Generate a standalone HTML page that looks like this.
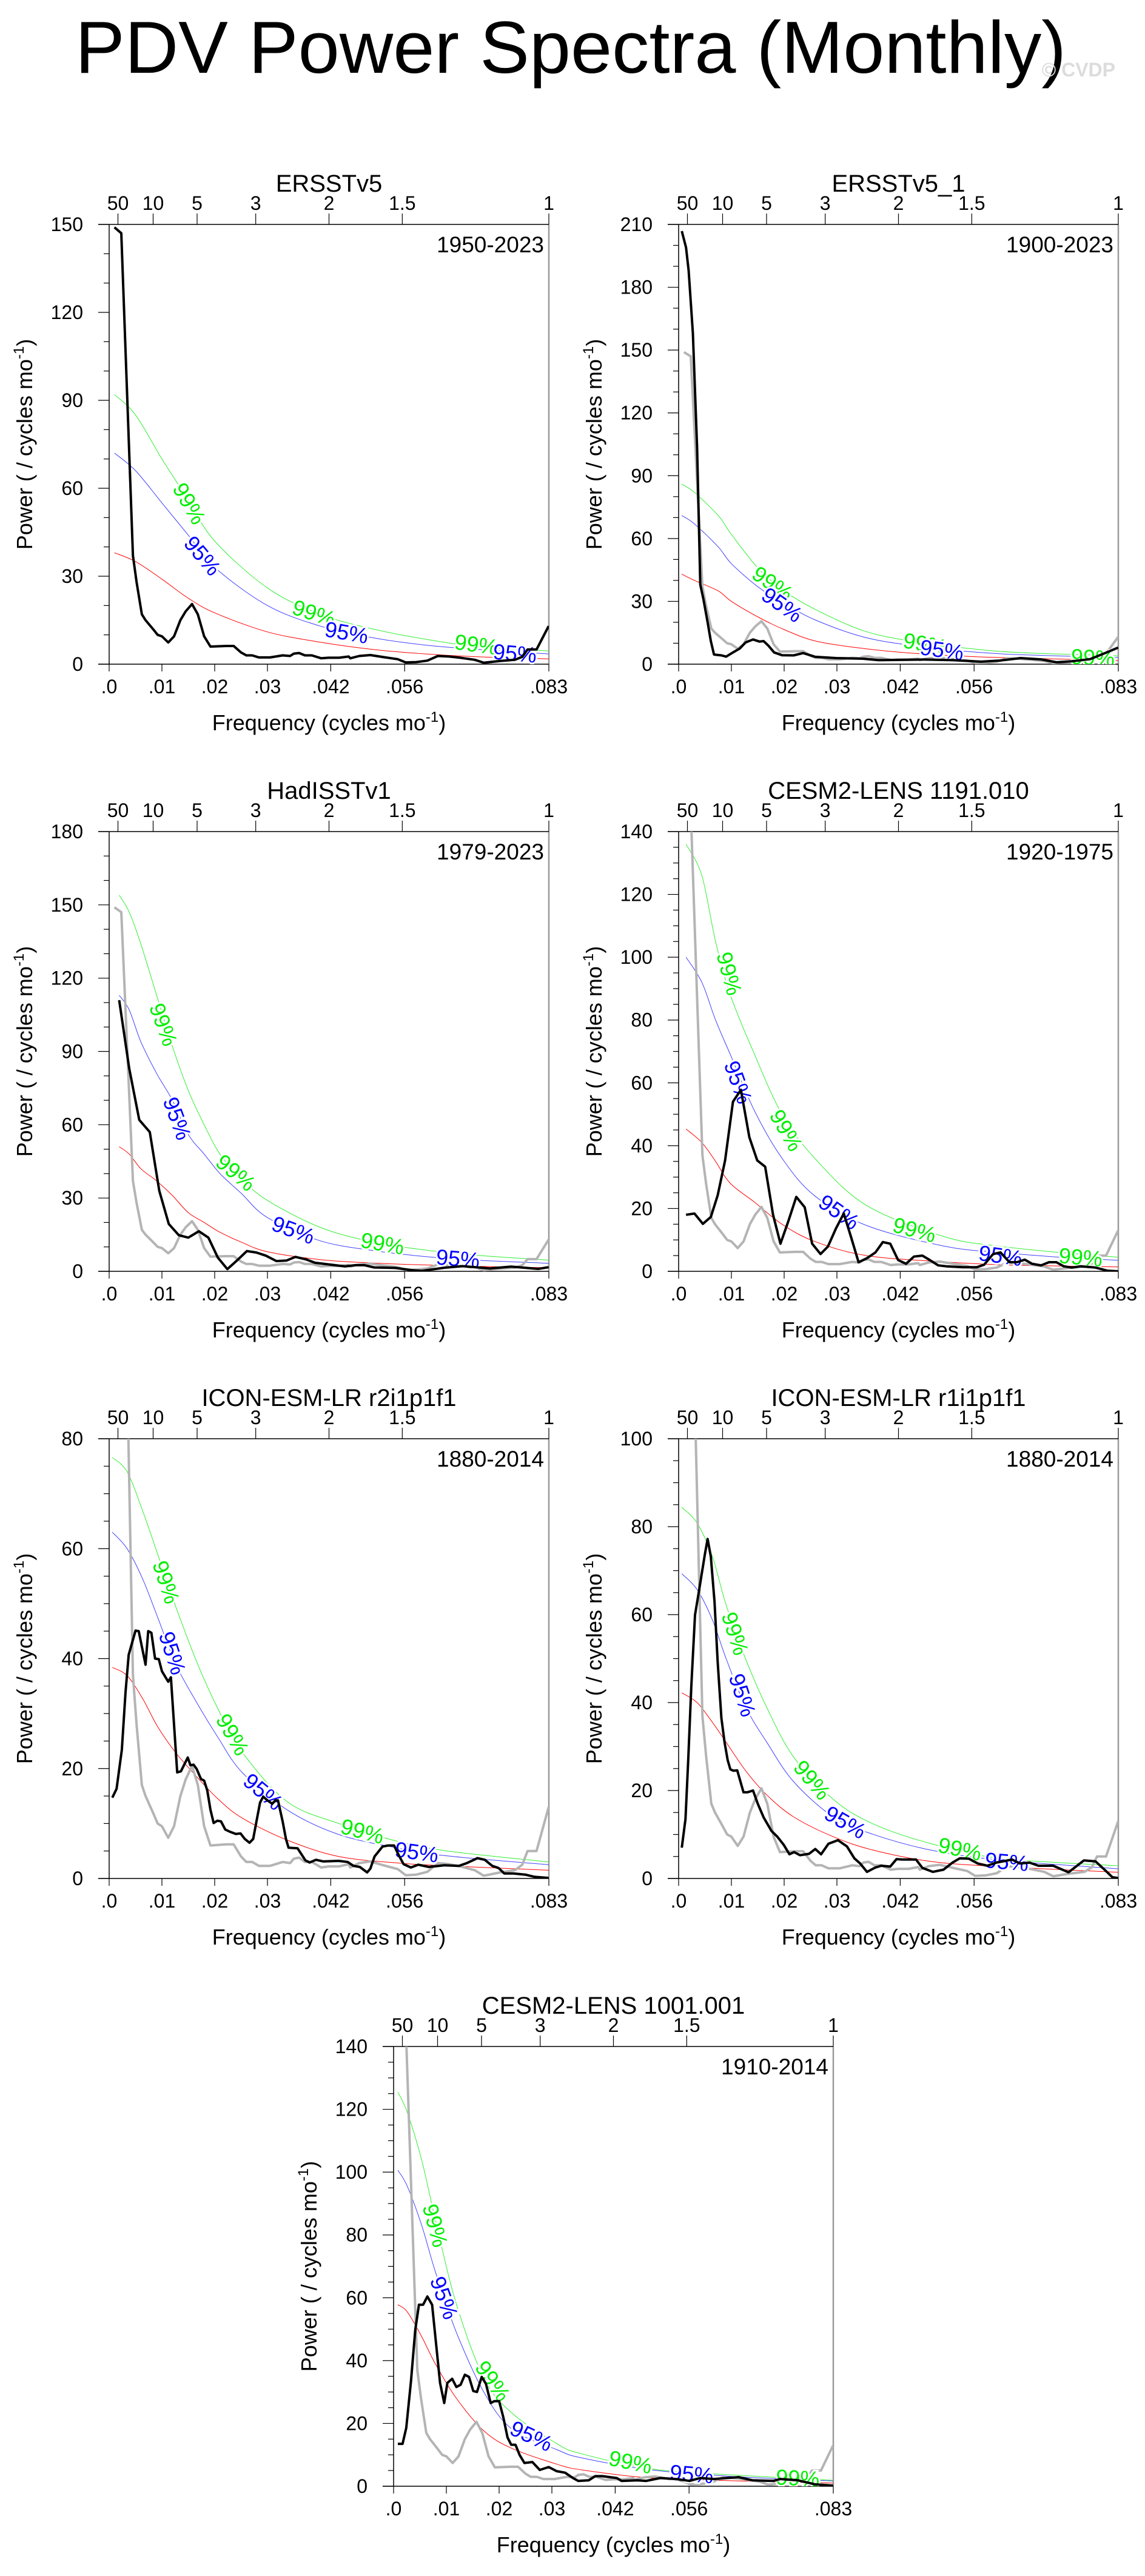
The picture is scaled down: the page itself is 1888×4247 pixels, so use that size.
<!DOCTYPE html>
<html><head><meta charset="utf-8"><title>PDV Power Spectra (Monthly)</title>
<style>
html,body{margin:0;padding:0;background:#fff;}
svg{display:block;font-family:"Liberation Sans",Arial,sans-serif;}
</style></head>
<body>
<svg id="fig" xmlns="http://www.w3.org/2000/svg" width="1888" height="4247" viewBox="0 0 1888 4247">
<rect x="0" y="0" width="1888" height="4247" fill="#fff"/>
<text x="941" y="120" text-anchor="middle" font-size="122" textLength="1634" lengthAdjust="spacingAndGlyphs" fill="#000">PDV Power Spectra (Monthly)</text>
<text x="1839" y="126" text-anchor="end" font-size="32" font-weight="bold" fill="#dcdcdc">© CVDP</text>
</svg>
<script>
// Reference series (ERSSTv5 1950-2023), drawn grey in the other panels
const refFreq = [.001,.0023,.0045,.0052,.0062,.0069,.0083,.0092,.01,.0112,.0123,.0135,.0145,.0157,.0168,.018,.0192,.0222,.0236,.025,.026,.0271,.0284,.0305,.0329,.0343,.035,.036,.0371,.0384,.0402,.0416,.0436,.0454,.0457,.0474,.0495,.052,.0547,.0562,.0582,.0603,.0623,.0644,.0665,.0693,.071,.0741,.0769,.0783,.0793,.081,.0833];
const refPower = [149,147,37,28,17,15,12,10,9.5,7.4,9.5,15,18,20.5,17,9.5,6,6.2,6.2,4,3,3,2.3,2.3,3,2.8,3.6,3.8,3,3,2,2.2,2.2,2.6,2,2.8,3.1,2.4,1.7,0.6,0.7,1.2,2.8,2.6,2.2,1.5,0.5,1.1,1.5,2.5,5,5,13];

// Panel 1 ERSSTv5
const p1Freq = refFreq;
const p1Power = refPower;
const p1SigFreq = [.001,.005,.01,.015,.02,.03,.04,.05,.06,.07,.0833];
const p1Red = [38,35,29,22.5,17.5,11,7.5,5,3.5,2.5,1.8];
const p1Sig95 = [72,66,55,44,33,20,13,9,6.5,5,3.5];
const p1Sig99 = [92,85,70,56,42,26,17,12,8.5,6,4.5];
const p1Labels = [[.0152,54.8,60,'99%'],[.0177,37,50,'95%'],[.0388,17.4,18,'99%'],[.045,10.8,10,'95%'],[.0696,6.7,8,'99%'],[.0769,3.7,5,'95%']];

// Panel 2 ERSSTv5_1
const p2Freq = [.0006,.0014,.0019,.0027,.0035,.0041,.0047,.0055,.0061,.0067,.0081,.009,.0101,.0116,.0127,.0141,.0153,.0161,.017,.0181,.0196,.0218,.0236,.0259,.0299,.035,.0379,.0465,.052,.0573,.0608,.0648,.0687,.0716,.0745,.078,.0811,.0833];
const p2Power = [206.8,199,188,158,103,38,31,20,11,4.6,4.2,3.6,5.3,7.5,10.4,11.8,10.8,11,8.9,5.6,4.3,4.2,5.3,3.5,2.9,2.6,1.9,2.2,1.9,1.2,1.7,2.9,2.3,0.9,1.4,2.4,5.6,7.9];
const p2SigFreq = [.0006,.003,.0075,.01,.015,.02,.026,.035,.044,.055,.065,.0833];
const p2Red = [43,40,35,30,22.6,16.5,11,7.5,5.3,3.7,2.9,1.7];
const p2Sig95 = [71,67,56,48,37,29,21,13,9,6,4.5,3.2];
const p2Sig99 = [86,82,71,62,46,35,26,16,11,7.5,5.5,4];
const p2Labels = [[.0178,38.5,35,'99%'],[.0196,28.4,35,'95%'],[.0467,9.7,10,'99%'],[.0499,6.8,8,'95%'],[.0785,3.2,3,'99%']];

// Panel 3 HadISSTv1
const p3Freq = [.0019,.0038,.0057,.0077,.0095,.0113,.0132,.015,.017,.0188,.0206,.0224,.0243,.0261,.0279,.0297,.0317,.0336,.0353,.0373,.039,.0447,.0467,.0484,.0502,.0542,.0573,.0593,.0636,.067,.0705,.0722,.0762,.0813,.0833];
const p3Power = [111,83,62,57,33,19.4,14.8,13.8,16.4,13.8,5.6,0.9,4.6,8.3,7.7,6.4,4.2,4.4,5.9,4.9,3.5,2,2.5,2.5,1.6,1.4,0.5,0.2,1.5,2.1,1.5,1.2,1.9,1,1.7];
const p3SigFreq = [.0019,.0038,.006,.009,.012,.015,.018,.021,.025,.03,.04,.05,.06,.07,.0833];
const p3Red = [51,48,42,37,31,24,20,16,12,8,4.8,3.4,2.6,2,1.5];
const p3Sig95 = [113,107,94,81,70,56,48,40,32,22,12.5,8.5,6,4.5,3.3];
const p3Sig99 = [154,147,134,113,92,74,60,48,38,29,18,12,8.7,6.5,4.6];
const p3Labels = [[.0103,101,70,'99%'],[.0129,62.6,70,'95%'],[.024,40.4,40,'99%'],[.0349,16.9,20,'95%'],[.0518,11.4,10,'99%'],[.0661,5.2,5,'95%']];

// Panel 4 CESM2-LENS 1191.010
const p4Freq = [.0014,.003,.0046,.0061,.0074,.0088,.0103,.0118,.0134,.0149,.0164,.0179,.0193,.0208,.0223,.0239,.0253,.0269,.0283,.0298,.0313,.0327,.0341,.0357,.0373,.0387,.0401,.0416,.0431,.0446,.0462,.0476,.0492,.0507,.0539,.0565,.0579,.0596,.061,.0627,.0641,.0656,.067,.0687,.0702,.0716,.073,.0745,.0762,.079,.0813,.0833];
const p4Power = [18,18.4,15.1,17.3,24.2,35.3,54,57.8,42.7,35.3,33.3,18,8.8,16,23.7,20.4,8.8,5.5,7.9,13.6,18.4,10.8,2.9,4.2,6,9.3,8.8,3.6,2.4,4.7,5,3.6,1.9,1.6,1.3,1.3,2.1,5.5,6,2.9,2.9,3.7,2.4,1.9,2.9,2.9,1.6,1.2,1.6,1.2,0.2,0];
const p4SigFreq = [.0014,.0044,.007,.0098,.0144,.0196,.0258,.0356,.0504,.0608,.0722,.0833];
const p4Red = [45.3,41,35,28,22,15,9.5,5,3,2.1,1.7,1.4];
const p4Sig95 = [100,92,80,69,51,36,24,14.6,8,6,4.5,3.5];
const p4Sig99 = [136,126,105,88,69,50,36,21,11,8,6,4.5];
const p4Labels = [[.0096,94.8,75,'99%'],[.0113,60.2,70,'95%'],[.0204,44.9,60,'99%'],[.0304,18.9,35,'95%'],[.0447,13.2,15,'99%'],[.061,5,8,'95%'],[.0762,4.5,5,'99%']];

// Panel 5 ICON-ESM-LR r2i1p1f1
const p5Freq = [.0006,.0014,.0024,.0031,.0037,.005,.0056,.0069,.0074,.008,.0087,.0094,.01,.0112,.0117,.0129,.0136,.0149,.0154,.016,.0166,.0174,.018,.0186,.0192,.0198,.0205,.0212,.022,.0229,.024,.0249,.0257,.0266,.0273,.028,.0286,.0292,.03,.0309,.0315,.032,.0329,.0335,.034,.0357,.0372,.038,.0392,.0406,.0435,.0452,.0463,.0475,.0489,.0495,.0503,.0518,.0529,.054,.0549,.0558,.0572,.0586,.0606,.0635,.0663,.0678,.0698,.0712,.0726,.0738,.0749,.0766,.0789,.0806,.0833];
const p5Power = [14.7,16.3,23.4,33.9,40.7,45.1,45,38.9,45,44.7,40,39.9,37.7,35.8,36.6,19.3,19.5,22,20.6,20.7,19.9,18.1,17.8,16,12.5,10.1,10.5,10.4,8.9,8.5,8.1,8.2,7.2,6.5,7.2,10.8,13.8,14.9,14.2,13.6,14.2,14.2,10.3,7.2,5.6,5.5,3.3,2.9,3.4,3.1,3.2,3,2.3,2.1,1.1,1.8,4,5.8,6,6,4.2,2.6,2,2.5,2.1,2.4,2.3,2.8,3.7,3.4,2.3,1.9,0.9,0.9,0.7,0.3,0.1];
const p5SigFreq = [.0006,.0034,.0063,.0092,.0126,.0166,.0206,.0252,.0337,.0435,.0549,.0641,.0833];
const p5Red = [38.4,36.9,32.8,27.6,22.9,18.5,14.5,11,7,4,2.8,2.3,1.5];
const p5Sig95 = [63,60,54.6,47.5,39,32,25.7,19.3,12.5,8,5.5,4.1,2.5];
const p5Sig99 = [76.6,74,67,59,49.5,39.4,30.9,23,14,10,6.7,5,3];
const p5Labels = [[.0108,53.9,72,'99%'],[.012,41,72,'95%'],[.0234,26.2,60,'99%'],[.0292,15.8,40,'95%'],[.048,8.6,15,'99%'],[.0583,4.8,8,'95%']];

// Panel 6 ICON-ESM-LR r1i1p1f1
const p6Freq = [.0006,.0013,.0018,.0024,.0031,.0038,.005,.0055,.0061,.0068,.0074,.0081,.0087,.0093,.0098,.0104,.0111,.0123,.013,.0136,.0141,.015,.0161,.0176,.0187,.0199,.021,.0219,.023,.0247,.0259,.027,.0284,.0302,.0319,.0333,.0344,.0357,.0373,.0384,.0401,.0413,.0424,.045,.0462,.0482,.0502,.0519,.0533,.055,.0567,.0585,.0602,.0632,.0647,.0665,.0682,.071,.0739,.0753,.0768,.079,.0808,.0822,.0833];
const p6Power = [7,13.5,26.6,43.7,59.9,65,73.9,77.2,73.2,62.9,49.2,36.5,31,26.9,24.8,24.5,24.6,19.6,19.6,19.8,20,17,13.9,10.8,9.5,7.7,5.5,6,5.3,5.6,6.7,5.5,7.9,8.7,7.3,4.6,3.4,1.5,2.5,2.9,2.7,4.4,4.3,4.3,2.4,1.5,2,3.6,4.6,4.5,3.4,2.9,3.6,4.3,3.4,3.6,2.9,2.9,1.4,2.7,4.1,3.9,1.9,0.3,0.1];
const p6SigFreq = [.0006,.0035,.0064,.009,.0127,.0167,.0218,.0293,.0367,.0476,.0608,.0833];
const p6Red = [42.2,40,35.5,31,24.5,19,14,9.5,6.5,3.9,2.7,1.4];
const p6Sig95 = [69.3,65.7,58.8,50,39,31,22,14,10.1,6.5,4.2,2.2];
const p6Sig99 = [84.4,80.8,73.2,62.2,49.9,38.9,27.6,18,12.5,8,4.6,2.9];
const p6Labels = [[.0107,55.7,72,'99%'],[.0121,41.7,72,'95%'],[.0253,22.4,50,'99%'],[.0316,12.8,30,'95%'],[.0533,6.7,12,'99%'],[.0622,3.8,5,'95%']];

// Panel 7 CESM2-LENS 1001.001
const p7Freq = [.0008,.0017,.0024,.0033,.0041,.0048,.0056,.0064,.0073,.0081,.0088,.0096,.0102,.0111,.0119,.0127,.0135,.0143,.0151,.0158,.0167,.0175,.0184,.0191,.02,.0208,.0216,.0223,.0231,.0239,.0248,.0263,.0277,.0294,.0309,.0325,.034,.035,.037,.0382,.0396,.0423,.0432,.0462,.0479,.0505,.0535,.0561,.0581,.0607,.0654,.068,.072,.0733,.0766,.0799,.0833];
const p7Power = [13.5,13.5,18.6,33.5,49.7,57.8,57.8,60.4,57.8,44.5,32.9,26.5,32.9,34.2,31.6,32.3,35.5,34.8,30.3,30,34.8,32.6,26.5,27.1,27.1,21.9,15.5,13.2,13.2,9.9,7.4,7.7,5.2,6.1,4.8,4.3,2.6,1.7,1.9,3.2,3.2,2.6,1.7,1.9,1.7,2.6,2.3,1.7,2.6,2.3,2.9,1.9,1.7,2.3,1.9,0.6,0.2];
const p7SigFreq = [.0008,.0026,.0053,.0079,.0119,.0172,.0225,.031,.0357,.0489,.0654,.0833];
const p7Red = [57.8,55.5,47.7,39,28,17.5,12,7,5.2,2.6,1.7,1];
const p7Sig95 = [100.6,95.5,83.2,68.4,49,29.7,18.1,11.6,9,5.2,3,1.7];
const p7Sig99 = [125.5,119,104,85,58,34.2,23.2,13.5,10.3,5.5,3.5,1.9];
const p7Labels = [[.0079,83,75,'99%'],[.0096,60,70,'95%'],[.0188,33.5,55,'99%'],[.0261,16,25,'95%'],[.0449,7.7,12,'99%'],[.0565,3.9,5,'95%'],[.0766,2.6,3,'99%']];

// Axis tick definitions
const topPeriods = [50,10,5,3,2,1.5,1];
const topPeriodLabels = ['50','10','5','3','2','1.5','1'];
const bottomTickValues = [0,.01,.02,.03,.042,.056,1/12];
const bottomTickLabels = ['.0','.01','.02','.03','.042','.056','.083'];

const panels = [
 {id:'ersstv5', title:'ERSSTv5', years:'1950-2023', x:180, y:370, ymax:150, major:30, minor:10, f:p1Freq, p:p1Power, gray:false, sf:p1SigFreq, red:p1Red, s95:p1Sig95, s99:p1Sig99, labels:p1Labels},
 {id:'ersstv5-1', title:'ERSSTv5_1', years:'1900-2023', x:1119, y:370, ymax:210, major:30, minor:10, f:p2Freq, p:p2Power, gray:true, sf:p2SigFreq, red:p2Red, s95:p2Sig95, s99:p2Sig99, labels:p2Labels},
 {id:'hadisstv1', title:'HadISSTv1', years:'1979-2023', x:180, y:1371, ymax:180, major:30, minor:10, f:p3Freq, p:p3Power, gray:true, sf:p3SigFreq, red:p3Red, s95:p3Sig95, s99:p3Sig99, labels:p3Labels},
 {id:'cesm2-1191', title:'CESM2-LENS 1191.010', years:'1920-1975', x:1119, y:1371, ymax:140, major:20, minor:5, f:p4Freq, p:p4Power, gray:true, sf:p4SigFreq, red:p4Red, s95:p4Sig95, s99:p4Sig99, labels:p4Labels},
 {id:'icon-r2', title:'ICON-ESM-LR r2i1p1f1', years:'1880-2014', x:180, y:2372, ymax:80, major:20, minor:5, f:p5Freq, p:p5Power, gray:true, sf:p5SigFreq, red:p5Red, s95:p5Sig95, s99:p5Sig99, labels:p5Labels},
 {id:'icon-r1', title:'ICON-ESM-LR r1i1p1f1', years:'1880-2014', x:1119, y:2372, ymax:100, major:20, minor:5, f:p6Freq, p:p6Power, gray:true, sf:p6SigFreq, red:p6Red, s95:p6Sig95, s99:p6Sig99, labels:p6Labels},
 {id:'cesm2-1001', title:'CESM2-LENS 1001.001', years:'1910-2014', x:649, y:3374, ymax:140, major:20, minor:5, f:p7Freq, p:p7Power, gray:true, sf:p7SigFreq, red:p7Red, s95:p7Sig95, s99:p7Sig99, labels:p7Labels}
];

const NS = 'http://www.w3.org/2000/svg';
const svg = document.getElementById('fig');
const W = 725, H = 725, FMAX = 1/12;

function mk(tag, attrs, parent) {
  const e = document.createElementNS(NS, tag);
  for (const k in attrs) e.setAttribute(k, attrs[k]);
  parent.appendChild(e);
  return e;
}
function linePath(pts) {
  return pts.map((p, i) => (i ? 'L' : 'M') + p[0].toFixed(1) + ' ' + p[1].toFixed(1)).join(' ');
}
function smoothPath(pts) {
  let d = 'M' + pts[0][0].toFixed(1) + ' ' + pts[0][1].toFixed(1);
  for (let i = 0; i < pts.length - 1; i++) {
    const p0 = pts[Math.max(0, i - 1)], p1 = pts[i], p2 = pts[i + 1], p3 = pts[Math.min(pts.length - 1, i + 2)];
    const c1x = p1[0] + (p2[0] - p0[0]) / 6, c1y = p1[1] + (p2[1] - p0[1]) / 6;
    const c2x = p2[0] - (p3[0] - p1[0]) / 6, c2y = p2[1] - (p3[1] - p1[1]) / 6;
    d += ' C' + c1x.toFixed(1) + ' ' + c1y.toFixed(1) + ' ' + c2x.toFixed(1) + ' ' + c2y.toFixed(1) + ' ' + p2[0].toFixed(1) + ' ' + p2[1].toFixed(1);
  }
  return d;
}

panels.forEach((P, idx) => {
  const g = mk('g', {}, svg);
  
  
  const xs = f => P.x + f / FMAX * W;
  const ys = v => P.y + H - v / P.ymax * H;

  const clipId = 'clip' + idx;
  const cp = mk('clipPath', {id: clipId}, g);
  mk('rect', {x: P.x, y: P.y, width: W, height: H}, cp);

  const t = mk('text', {x: P.x + W / 2, y: P.y - 54, 'text-anchor': 'middle', 'font-size': 40, fill: '#000'}, g);
  t.textContent = P.title;
  
  

  const yr = mk('text', {x: P.x + W - 8, y: P.y + 46, 'text-anchor': 'end', 'font-size': 37, fill: '#000'}, g);
  yr.textContent = P.years;
  
  

  mk('line', {x1: P.x + W, y1: P.y, x2: P.x + W, y2: P.y + H, stroke: '#9a9a9a', 'stroke-width': 2.5}, g);
  mk('line', {x1: P.x, y1: P.y, x2: P.x, y2: P.y + H, stroke: '#000', 'stroke-width': 1.5}, g);
  mk('line', {x1: P.x - 18, y1: P.y, x2: P.x + W, y2: P.y, stroke: '#000', 'stroke-width': 1.5}, g);
  mk('line', {x1: P.x - 18, y1: P.y + H, x2: P.x + W, y2: P.y + H, stroke: '#000', 'stroke-width': 1.5}, g);

  for (let v = 0; v <= P.ymax + 1e-9; v += P.minor) {
    const isMajor = Math.abs(v / P.major - Math.round(v / P.major)) < 1e-6;
    const yy = ys(v);
    mk('line', {x1: P.x - (isMajor ? 18 : 9), y1: yy, x2: P.x, y2: yy, stroke: '#000', 'stroke-width': 1.2}, g);
    if (isMajor) {
      const tl = mk('text', {x: P.x - 43, y: yy + 11, 'text-anchor': 'end', 'font-size': 32, fill: '#000'}, g);
      tl.textContent = String(v);
      
      
    }
  }
  topPeriods.forEach((per, i) => {
    const xx = xs(1 / (12 * per));
    mk('line', {x1: xx, y1: P.y - 18, x2: xx, y2: P.y, stroke: '#000', 'stroke-width': 1.2}, g);
    const tl = mk('text', {x: xx, y: P.y - 24, 'text-anchor': 'middle', 'font-size': 32, fill: '#000'}, g);
    tl.textContent = topPeriodLabels[i];
    
    
  });
  bottomTickValues.forEach((fv, i) => {
    const xx = xs(fv);
    mk('line', {x1: xx, y1: P.y + H, x2: xx, y2: P.y + H + 12, stroke: '#000', 'stroke-width': 1.2}, g);
    const tl = mk('text', {x: xx, y: P.y + H + 48, 'text-anchor': 'middle', 'font-size': 32, fill: '#000'}, g);
    tl.textContent = bottomTickLabels[i];
    
    
  });
  const xt = mk('text', {x: P.x + W / 2, y: P.y + H + 109, 'text-anchor': 'middle', 'font-size': 36, fill: '#000'}, g);
  xt.innerHTML = 'Frequency (cycles mo<tspan dy="-14" font-size="24">-1</tspan><tspan dy="14">)</tspan>';
  
  
  const ytt = mk('text', {x: 0, y: 0, 'text-anchor': 'middle', 'font-size': 36, fill: '#000', transform: 'translate(' + (P.x - 127) + ',' + (P.y + H / 2) + ') rotate(-90)'}, g);
  ytt.innerHTML = 'Power ( / cycles mo<tspan dy="-14" font-size="24">-1</tspan><tspan dy="14">)</tspan>';
  
  

  const plot = mk('g', {'clip-path': 'url(#' + clipId + ')'}, g);
  
  

  const sigs = [[P.red, '#ff0000', 'red-noise-curve'], [P.s95, '#4040ff', 'sig95-curve'], [P.s99, '#30ee30', 'sig99-curve']];
  sigs.forEach(s => {
    const pts = P.sf.map((f, i) => [xs(f), ys(s[0][i])]);
    const pe = mk('path', {d: smoothPath(pts), fill: 'none', stroke: s[1], 'stroke-width': 1}, plot);
    
    
  });

  if (P.gray) {
    const pts = refFreq.map((f, i) => [xs(f), ys(refPower[i])]);
    const gp = mk('path', {d: linePath(pts), fill: 'none', stroke: '#b4b4b4', 'stroke-width': 4, 'stroke-linejoin': 'round'}, plot);
    
    
  }

  P.labels.forEach(L => {
    const lx = xs(L[0]), ly = ys(L[1]);
    const col = L[3] === '99%' ? '#00ee00' : '#0000ff';
    const lt = mk('text', {x: 0, y: 0, 'text-anchor': 'middle', 'dominant-baseline': 'central', 'font-size': 36, fill: col,
      stroke: '#fff', 'stroke-width': 6, 'paint-order': 'stroke', transform: 'translate(' + lx.toFixed(1) + ',' + ly.toFixed(1) + ') rotate(' + L[2] + ')'}, plot);
    lt.textContent = L[3];
    
    
  });

  const mpts = P.f.map((f, i) => [xs(f), ys(P.p[i])]);
  const mp = mk('path', {d: linePath(mpts), fill: 'none', stroke: '#000', 'stroke-width': 4, 'stroke-linejoin': 'round'}, plot);
  
  
});
</script>
</body></html>
